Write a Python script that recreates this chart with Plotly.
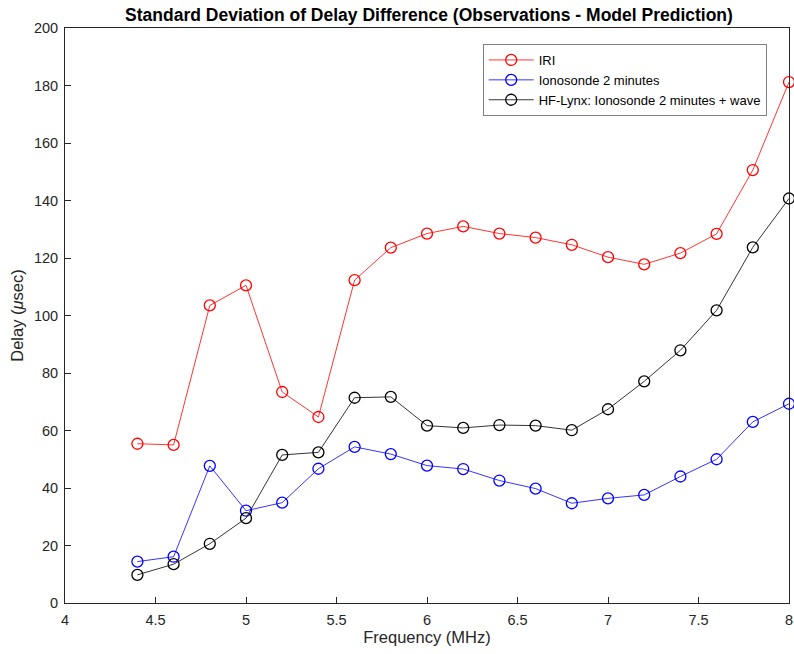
import plotly.graph_objects as go

freq = [4.4, 4.6, 4.8, 5.0, 5.2, 5.4, 5.6, 5.8, 6.0, 6.2, 6.4, 6.6, 6.8, 7.0, 7.2, 7.4, 7.6, 7.8, 8.0]
iri = [55.4, 55.0, 103.5, 110.5, 73.4, 64.7, 112.3, 123.6, 128.5, 131.0, 128.5, 127.1, 124.6, 120.3, 117.8, 121.7, 128.4, 150.6, 181.2]
iono_2min = [14.4, 16.1, 47.7, 32.1, 34.9, 46.7, 54.3, 51.8, 47.8, 46.6, 42.6, 39.8, 34.7, 36.4, 37.6, 44.0, 50.0, 63.0, 69.3]
hf_lynx = [9.8, 13.5, 20.6, 29.5, 51.5, 52.4, 71.4, 71.7, 61.7, 60.9, 61.9, 61.7, 60.1, 67.4, 77.1, 87.9, 101.8, 123.7, 140.7]

x_ticks = [4, 4.5, 5, 5.5, 6, 6.5, 7, 7.5, 8]
x_tick_text = ["4", "4.5", "5", "5.5", "6", "6.5", "7", "7.5", "8"]
y_ticks = list(range(0, 201, 20))

series = [
    ("IRI", iri, "#ff0000"),
    ("Ionosonde 2 minutes", iono_2min, "#0000ff"),
    ("HF-Lynx: Ionosonde 2 minutes + wave", hf_lynx, "#000000"),
]

FONT = "Liberation Sans, Arial, sans-serif"

fig = go.Figure()
for name, vals, color in series:
    fig.add_trace(go.Scatter(
        x=freq, y=vals, name=name, mode="lines+markers",
        line=dict(color=color, width=0.8),
        marker=dict(symbol="circle-open", size=11, color=color, line=dict(width=1.3, color=color)),
        cliponaxis=False,
    ))

axis_common = dict(
    showline=True, linecolor="#262626", linewidth=1, mirror=True,
    ticks="inside", ticklen=6, tickcolor="#262626", tickwidth=1,
    showgrid=False, zeroline=False,
    tickfont=dict(family=FONT, size=14.5, color="#262626"),
    ticklabeloverflow="allow",
)

fig.update_layout(
    width=794, height=654,
    margin=dict(l=65, r=1, t=28, b=51),
    paper_bgcolor="white", plot_bgcolor="white",
    title=dict(
        text="<b>Standard Deviation of Delay Difference (Observations - Model Prediction)</b>",
        x=(65 + 793) / 2 / 794, xanchor="center", y=1 - 15 / 654, yanchor="middle",
        font=dict(family=FONT, size=17.5, color="black"),
    ),
    xaxis=dict(range=[4, 8], tickvals=x_ticks, ticktext=x_tick_text,
               ticklabelstandoff=4,
               title=dict(text="Frequency (MHz)", standoff=4,
                          font=dict(family=FONT, size=16.5, color="#262626")),
               **axis_common),
    yaxis=dict(range=[0, 200], tickvals=y_ticks,
               ticklabelstandoff=3,
               title=dict(text="Delay (<i>μ</i>sec)", standoff=6,
                          font=dict(family=FONT, size=16.5, color="#262626")),
               **axis_common),
    legend=dict(
        x=(485 - 65) / 728, y=(603 - 44) / 575, xanchor="left", yanchor="top",
        bgcolor="white", bordercolor="#808080", borderwidth=1,
        font=dict(family=FONT, size=13, color="black"),
        itemwidth=45, tracegroupgap=0,
    ),
    showlegend=True,
)

fig.write_html("out.html")
